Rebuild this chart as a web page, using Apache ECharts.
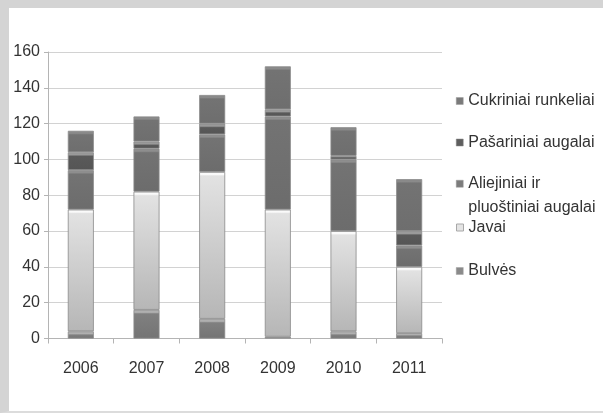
<!DOCTYPE html>
<html>
<head>
<meta charset="utf-8">
<script src="https://cdn.jsdelivr.net/npm/echarts@6/dist/echarts.min.js"></script>
<style>
  html, body { margin: 0; padding: 0; background: #fff; }
  #frame {
    position: absolute; left: 0; top: 0; width: 594px; height: 403px;
    border-top: 8px solid #d4d4d4; border-left: 9px solid #d4d4d4;
    border-bottom: 2px solid #dcdcdc;
  }
  #main { position: absolute; left: 0; top: 0; width: 603px; height: 414px; }
</style>
</head>
<body>
<div id="frame"></div>
<div id="main"></div>
<script>
// years on the x axis
const years = ["2006", "2007", "2008", "2009", "2010", "2011"];
const yTicks = [0, 20, 40, 60, 80, 100, 120, 140, 160];

// stacked from bottom to top
const bulves = [4, 16, 11, 1, 4, 3];
const javai = [68, 66, 82, 71, 56, 37];
const aliejiniai = [22, 24, 21, 52, 40, 12];
const pasariniai = [10, 4, 6, 4, 2, 8];
const cukriniai = [12, 14, 16, 24, 16, 29];

const names = {
  cuk: "Cukriniai runkeliai",
  pas: "Pašariniai augalai",
  ali: "Aliejiniai ir pluoštiniai augalai",
  jav: "Javai",
  bul: "Bulvės"
};

// bevel-like fill: light line at the top of every segment
function fill(v, hi, base, low) {
  const off = Math.min(0.35, 2.5 / Math.max(v * 1.79, 1));
  return {
    type: "linear", x: 0, y: 0, x2: 0, y2: 1,
    colorStops: [
      { offset: 0, color: hi },
      { offset: off, color: hi },
      { offset: Math.min(0.5, off * 1.6), color: base },
      { offset: 1, color: low }
    ]
  };
}

function makeSeries(name, values, hi, base, low, z) {
  return {
    name: name,
    type: "bar",
    stack: "all",
    barWidth: 26,
    z: z,
    data: values.map(v => ({
      value: v,
      itemStyle: { color: fill(v, hi, base, low) }
    })),
    itemStyle: { borderColor: "#8a8a8a", borderWidth: 0.8 },
    emphasis: { disabled: true }
  };
}

const legendFont = { fontFamily: "Liberation Sans", fontSize: 16, color: "#333333" };

function legendItem(name, top, marker, extra) {
  return Object.assign({
    left: 456,
    top: top,
    padding: 0,
    orient: "vertical",
    itemWidth: 7,
    itemHeight: 7,
    icon: "rect",
    selectedMode: false,
    data: [{ name: name, itemStyle: marker }],
    textStyle: Object.assign({ lineHeight: 20 }, legendFont)
  }, extra || {});
}

const chart = echarts.init(document.getElementById("main"), null, { renderer: "canvas" });

chart.setOption({
  animation: false,
  backgroundColor: "transparent",
  grid: { left: 48, right: 161, top: 52, bottom: 75.5, containLabel: false },
  legend: [
    legendItem(names.cuk, 91, { color: "#7a7a7a", borderColor: "#9a9a9a", borderWidth: 0.5 }),
    legendItem(names.pas, 132.5, { color: "#5e5e5e", borderColor: "#888", borderWidth: 0.5 }),
    // empty first line so the marker sits next to the first text line
    legendItem(names.ali, 148.5, { color: "#7c7c7c", borderColor: "#9a9a9a", borderWidth: 0.5 }, {
      formatter: () => " \nAliejiniai ir\npluoštiniai augalai",
      textStyle: Object.assign({ lineHeight: 23.5 }, legendFont)
    }),
    legendItem(names.jav, 217.5, { color: "#e4e4e4", borderColor: "#a8a8a8", borderWidth: 1 }),
    legendItem(names.bul, 261, { color: "#8a8a8a", borderColor: "#a0a0a0", borderWidth: 0.5 })
  ],
  xAxis: {
    type: "category",
    data: years,
    axisLine: { lineStyle: { color: "#b4b4b4", width: 1 } },
    axisTick: { show: true, length: 5, lineStyle: { color: "#b4b4b4" } },
    axisLabel: { margin: 22, fontFamily: "Liberation Sans", fontSize: 16, color: "#333333" }
  },
  yAxis: {
    type: "value",
    min: yTicks[0],
    max: yTicks[yTicks.length - 1],
    interval: 20,
    axisLine: { show: true, lineStyle: { color: "#b4b4b4", width: 1 } },
    axisTick: { show: true, length: 4, lineStyle: { color: "#b4b4b4" } },
    axisLabel: { margin: 8, fontFamily: "Liberation Sans", fontSize: 16, color: "#333333" },
    splitLine: { lineStyle: { color: "#d2d2d2", width: 1 } }
  },
  series: [
    makeSeries(names.bul, bulves, "#b0b0b0", "#808080", "#747474", 5),
    makeSeries(names.jav, javai, "#fafafa", "#e2e2e2", "#b6b6b6", 4),
    makeSeries(names.ali, aliejiniai, "#8e8e8e", "#737373", "#6c6c6c", 3),
    makeSeries(names.pas, pasariniai, "#9a9a9a", "#5a5a5a", "#555555", 2),
    makeSeries(names.cuk, cukriniai, "#8a8a8a", "#737373", "#6e6e6e", 1)
  ]
});
</script>
</body>
</html>
